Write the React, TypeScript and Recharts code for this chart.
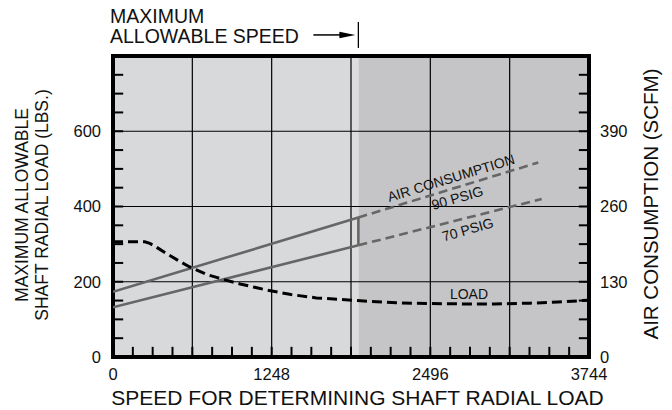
import React from 'react';
import {
  ComposedChart,
  Line,
  XAxis,
  YAxis,
  ReferenceArea,
  ReferenceLine,
  ReferenceDot,
} from 'recharts';

// ---------------- data ----------------
const speedLabelTicks = [0, 1248, 2496, 3744];
const speedMinorTicks = [
  156, 312, 468, 624, 780, 936, 1092, 1248, 1404, 1560, 1716, 1872, 2028, 2184,
  2340, 2496, 2652, 2808, 2964, 3120, 3276, 3432, 3588,
];
const speedGrid = [624, 1248, 1872, 2496, 3120];

const lbsLabelTicks = [0, 200, 400, 600];
const lbsMinorTicks = [50, 100, 150, 200, 250, 300, 350, 400, 450, 500, 550, 600, 650, 700, 750];
const lbsGrid = [200, 400, 600];

const scfmLabelTicks = [0, 130, 260, 390];
const scfmMinorTicks = [32.5, 65, 97.5, 130, 162.5, 195, 227.5, 260, 292.5, 325, 357.5, 390, 422.5, 455, 487.5];

const maxAllowableSpeed = 1930;

// maximum allowable shaft radial load (LBS.)
const loadSpeed = [0, 250, 290, 360, 420, 530, 600, 740, 870, 1000, 1210, 1400, 1600, 1920, 2230, 2500, 2800, 3000, 3280, 3500, 3744];
const loadLbs = [306, 306, 302, 288, 275, 253, 240, 219, 206, 194, 178, 166, 157, 150, 144, 142, 141, 141, 143, 146, 151];

// air consumption (SCFM) 90 PSIG
const air90Speed = [0, 1930];
const air90Scfm = [112.5, 241];
const air90ExtSpeed = [1930, 3345];
const air90ExtScfm = [241, 336];

// air consumption (SCFM) 70 PSIG
const air70Speed = [0, 1930];
const air70Scfm = [86, 193];
const air70ExtSpeed = [1930, 3372];
const air70ExtScfm = [193, 273];

// tables for the library
const zip = (xs: number[], ys: number[], key: string) => xs.map((s, i) => ({ s, [key]: ys[i] }));
const loadData = zip(loadSpeed, loadLbs, 'lbs');
const air90Data = zip(air90Speed, air90Scfm, 'scfm');
const air90ExtData = zip(air90ExtSpeed, air90ExtScfm, 'scfm');
const air70Data = zip(air70Speed, air70Scfm, 'scfm');
const air70ExtData = zip(air70ExtSpeed, air70ExtScfm, 'scfm');
const connectorData = [
  { s: maxAllowableSpeed, scfm: air70Scfm[1] },
  { s: maxAllowableSpeed, scfm: air90Scfm[1] },
];

// ---------------- layout / style ----------------
const W = 672;
const H = 410;
const FONT = '"Liberation Sans", Arial, Helvetica, sans-serif';
const LEFT_AXIS_W = 60;
const RIGHT_AXIS_W = 60;
const X_AXIS_H = 30;
const MARGIN = { top: 56, right: 83 - RIGHT_AXIS_W, bottom: 53 - X_AXIS_H, left: 113 - LEFT_AXIS_W };
const TM_X = 11;
const TM_L = 12;
const TM_R = 11;
const TICK_FONT = 16.5;
const GRAY = '#666666';
// inward tick lengths expressed in axis units (about 10 px each)
const TICK_LEN_SPEED = 80;
const TICK_LEN_LBS = 27;

// short tick segments (built from the tick arrays)
const leftTickSegs = lbsMinorTicks.map((v) => [{ s: 0, t: v }, { s: TICK_LEN_SPEED, t: v }]);
const rightTickSegs = scfmMinorTicks.map((v) => [{ s: 3744 - TICK_LEN_SPEED, t: v }, { s: 3744, t: v }]);
const bottomTickSegs = speedMinorTicks.map((s) => [{ s, t: 0 }, { s, t: TICK_LEN_LBS }]);

const XTick = (props: any) => {
  const { x, y, payload } = props;
  return (
    <text x={x} y={y} dy="0.71em" textAnchor="middle" fontSize={TICK_FONT} fontFamily={FONT} fill="#111">
      {payload.value}
    </text>
  );
};

const LeftTick = (props: any) => {
  const { x, y, payload } = props;
  return (
    <text x={x} y={y} dy="0.355em" textAnchor="end" fontSize={TICK_FONT} fontFamily={FONT} fill="#111">
      {payload.value}
    </text>
  );
};

const RightTick = (props: any) => {
  const { x, y, payload } = props;
  return (
    <text x={x} y={y} dy="0.355em" textAnchor="start" fontSize={TICK_FONT} fontFamily={FONT} fill="#111">
      {payload.value}
    </text>
  );
};

const rotatedNote = (text: string, angle: number, size: number) => (props: any) => {
  const { cx, cy } = props;
  return (
    <text
      x={cx}
      y={cy}
      transform={`rotate(${angle} ${cx} ${cy})`}
      textAnchor="middle"
      dominantBaseline="central"
      fontSize={size}
      fontFamily={FONT}
      fill="#111"
    >
      {text}
    </text>
  );
};

const MaxSpeedMarker = (props: any) => {
  const { cx, cy } = props;
  return (
    <g>
      <line x1={cx} x2={cx} y1={cy - 13} y2={cy + 13} stroke="#000" strokeWidth={1.3} />
      <line x1={cx - 45} x2={cx - 16} y1={cy} y2={cy} stroke="#000" strokeWidth={1.5} />
      <polygon points={`${cx - 19},${cy - 3.2} ${cx - 3},${cy} ${cx - 19},${cy + 3.2}`} fill="#000" />
    </g>
  );
};

const tickLine = (data: any[], axisId: string, key: string) => (
  <Line
    key={key}
    data={data}
    yAxisId={axisId}
    dataKey="t"
    stroke="#000"
    strokeWidth={2}
    dot={false}
    activeDot={false}
    legendType="none"
    isAnimationActive={false}
  />
);

export default function App() {
  return (
    <div style={{ position: 'absolute', left: 0, top: 0, width: W, height: H, background: '#fff' }}>
      <ComposedChart width={W} height={H} margin={MARGIN}>
        <XAxis
          dataKey="s"
          type="number"
          domain={[0, 3744]}
          allowDataOverflow
          ticks={speedLabelTicks}
          interval={0}
          tickSize={0}
          tickMargin={TM_X}
          tickLine={false}
          axisLine={false}
          height={X_AXIS_H}
          tick={<XTick />}
        />
        <YAxis
          yAxisId="left"
          type="number"
          domain={[0, 800]}
          allowDataOverflow
          ticks={lbsLabelTicks}
          interval={0}
          tickSize={0}
          tickMargin={TM_L}
          tickLine={false}
          axisLine={false}
          width={LEFT_AXIS_W}
          tick={<LeftTick />}
        />
        <YAxis
          yAxisId="right"
          orientation="right"
          type="number"
          domain={[0, 520]}
          allowDataOverflow
          ticks={scfmLabelTicks}
          interval={0}
          tickSize={0}
          tickMargin={TM_R}
          tickLine={false}
          axisLine={false}
          width={RIGHT_AXIS_W}
          tick={<RightTick />}
        />

        {/* background zones */}
        <ReferenceArea yAxisId="left" x1={0} x2={speedGrid[2]} y1={0} y2={800} fill="#d8d9db" fillOpacity={1} stroke="none" />
        <ReferenceArea yAxisId="left" x1={speedGrid[2]} x2={maxAllowableSpeed} y1={0} y2={800} fill="#dcdcdd" fillOpacity={1} stroke="none" />
        <ReferenceArea yAxisId="left" x1={maxAllowableSpeed} x2={3744} y1={0} y2={800} fill="#c5c5c7" fillOpacity={1} stroke="none" />

        {/* grid */}
        {speedGrid.map((s) => (
          <ReferenceLine key={'gx' + s} yAxisId="left" x={s} stroke="#000" strokeWidth={1.2} />
        ))}
        {lbsGrid.map((v) => (
          <ReferenceLine key={'gy' + v} yAxisId="left" y={v} stroke="#000" strokeWidth={1.2} />
        ))}

        {/* inward minor ticks */}
        {leftTickSegs.map((d, i) => tickLine(d, 'left', 'lt' + i))}
        {rightTickSegs.map((d, i) => tickLine(d, 'right', 'rt' + i))}
        {bottomTickSegs.map((d, i) => tickLine(d, 'left', 'bt' + i))}

        {/* series */}
        <Line data={air90Data} yAxisId="right" dataKey="scfm" stroke={GRAY} strokeWidth={2.6} dot={false} activeDot={false} isAnimationActive={false} />
        <Line data={air70Data} yAxisId="right" dataKey="scfm" stroke={GRAY} strokeWidth={2.6} dot={false} activeDot={false} isAnimationActive={false} />
        <Line data={connectorData} yAxisId="right" dataKey="scfm" stroke={GRAY} strokeWidth={2.6} dot={false} activeDot={false} isAnimationActive={false} />
        <Line data={air90ExtData} yAxisId="right" dataKey="scfm" stroke={GRAY} strokeWidth={2.6} strokeDasharray="9 5" dot={false} activeDot={false} isAnimationActive={false} />
        <Line data={air70ExtData} yAxisId="right" dataKey="scfm" stroke={GRAY} strokeWidth={2.6} strokeDasharray="9 5" dot={false} activeDot={false} isAnimationActive={false} />
        <Line data={loadData} yAxisId="left" dataKey="lbs" type="linear" stroke="#000" strokeWidth={3} strokeDasharray="10 5" dot={false} activeDot={false} isAnimationActive={false} />

        {/* frame */}
        <ReferenceArea yAxisId="left" x1={0} x2={3744} y1={0} y2={800} fill="none" fillOpacity={0} stroke="#000" strokeWidth={4} />

        {/* annotations */}
        <ReferenceDot yAxisId="left" x={2658} y={476} r={0} ifOverflow="visible" shape={rotatedNote('AIR CONSUMPTION', -17, 14)} />
        <ReferenceDot yAxisId="left" x={2709} y={423} r={0} ifOverflow="visible" shape={rotatedNote('90 PSIG', -16, 14)} />
        <ReferenceDot yAxisId="left" x={2790} y={339} r={0} ifOverflow="visible" shape={rotatedNote('70 PSIG', -16, 14)} />
        <ReferenceDot yAxisId="left" x={2800} y={167} r={0} ifOverflow="visible" shape={rotatedNote('LOAD', 0, 14)} />
        <ReferenceDot yAxisId="left" x={maxAllowableSpeed} y={856} r={0} ifOverflow="visible" shape={<MaxSpeedMarker />} />
      </ComposedChart>

      <svg width={W} height={H} style={{ position: 'absolute', left: 0, top: 0, pointerEvents: 'none' }}>
        <g fontFamily={FONT} fill="#111">
          <text x={110} y={23.3} fontSize={19.5}>MAXIMUM</text>
          <text x={110} y={43.3} fontSize={19.5}>ALLOWABLE SPEED</text>
          <text x={357.5} y={405} fontSize={21} textAnchor="middle">SPEED FOR DETERMINING SHAFT RADIAL LOAD</text>
          <text x={22} y={205} fontSize={17.5} textAnchor="middle" dominantBaseline="central" transform="rotate(-90 22 205)">
            MAXIMUM ALLOWABLE
          </text>
          <text x={42} y={205} fontSize={17.5} textAnchor="middle" dominantBaseline="central" transform="rotate(-90 42 205)">
            SHAFT RADIAL LOAD (LBS.)
          </text>
          <text x={650} y={204} fontSize={20.5} textAnchor="middle" dominantBaseline="central" transform="rotate(-90 650 204)">
            AIR CONSUMPTION (SCFM)
          </text>
        </g>
      </svg>
    </div>
  );
}
